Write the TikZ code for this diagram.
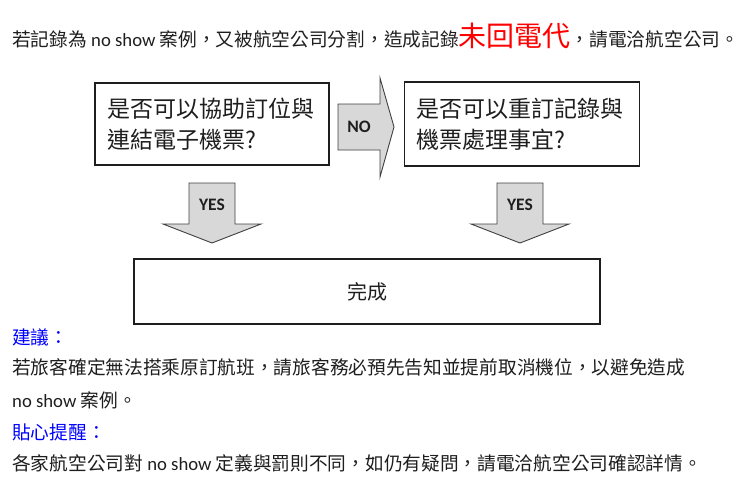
\documentclass[tikz,border=0pt]{standalone}
\usepackage{fontspec}
\setmainfont{Noto Sans CJK TC}
\newfontfamily\latfont{Carlito}
\usetikzlibrary{positioning}
\definecolor{inkgray}{RGB}{30,30,30}
\definecolor{arrowfill}{RGB}{216,216,216}
\definecolor{tipblue}{RGB}{0,0,255}
\definecolor{alertred}{RGB}{255,0,0}

\begin{document}
\begin{tikzpicture}[x=1pt,y=-1pt,
    q/.style={rectangle,draw=inkgray,line width=1.4pt,inner ysep=0pt,
      font=\fontsize{23}{31}\selectfont,text=inkgray},
    blk/.style={draw=inkgray!85,line width=0.9pt,fill=arrowfill,line join=miter},
    lbl/.style={font=\latfont\bfseries\fontsize{17.5}{19}\selectfont,text=inkgray},
    txt/.style={anchor=base west,inner sep=0pt,font=\fontsize{18.7}{22}\selectfont,text=inkgray}]
  \useasboundingbox (0,0) rectangle (750,503);
  \node[txt] (head) at (12,47) {若記錄為{\latfont\ no show }案例，又被航空公司分割，造成記錄{\color{alertred}\fontsize{28}{30}\selectfont 未回電代}，請電洽航空公司。};
  \node[q,minimum width=234pt,minimum height=82pt,inner xsep=12pt,text width=210pt,align=left] (ask1) at (212,124) {是否可以協助訂位與\\連結電子機票?};
  \node[q,minimum width=235pt,minimum height=84pt,inner xsep=12.5pt,text width=210pt,align=left,right=74pt of ask1] (ask2) {是否可以重訂記錄與\\機票處理事宜?};
  \node[q,minimum width=466pt,minimum height=65pt,font=\fontsize{20}{24}\selectfont] (done) at (367,291.5) {完成};
  \draw[blk] (338,104) -- (380,104) -- (380,78) -- (394,127) -- (380,177) -- (380,150) -- (338,150) -- cycle;
  \node[lbl] (no) at (359,127) {NO};
  \foreach \cx/\nm in {212/yesl,520/yesr} {
    \draw[blk] (\cx-23,183) -- (\cx+23,183) -- (\cx+23,224) -- (\cx+49,224) -- (\cx,243)
      -- (\cx-49,224) -- (\cx-23,224) -- cycle;
    \node[lbl] (\nm) at (\cx,205) {YES};
  }
  \node[txt,text=tipblue] (tip1) at (12,344) {建議：};
  \node[txt] (tip1a) at (12,374) {若旅客確定無法搭乘原訂航班，請旅客務必預先告知並提前取消機位，以避免造成};
  \node[txt] (tip1b) at (12,407) {{\latfont no show }案例。};
  \node[txt,text=tipblue] (tip2) at (12,439) {貼心提醒：};
  \node[txt] (tip2a) at (12,470) {各家航空公司對{\latfont\ no show }定義與罰則不同，如仍有疑問，請電洽航空公司確認詳情。};
\end{tikzpicture}
\end{document}
